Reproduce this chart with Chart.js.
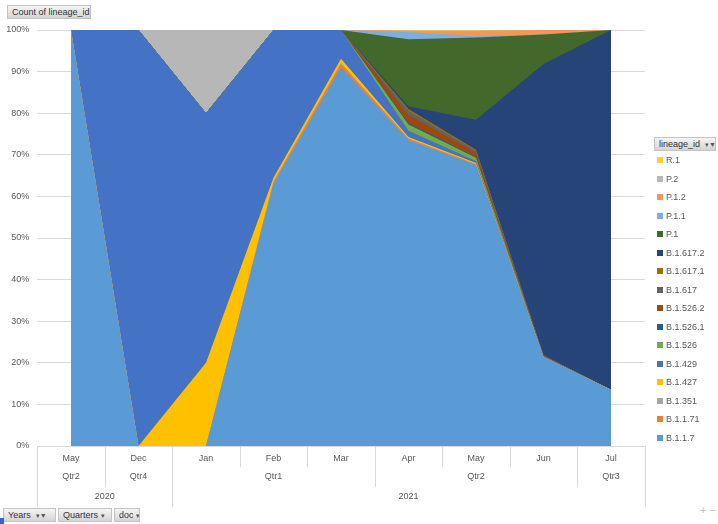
<!DOCTYPE html>
<html>
<head>
<meta charset="utf-8">
<script src="https://cdn.jsdelivr.net/npm/chart.js@4.4.1/dist/chart.umd.min.js"></script>
<style>
  html, body { margin: 0; padding: 0; background: #fff; }
  #wrap { position: relative; width: 718px; height: 524px; overflow: hidden;
          font-family: "Liberation Sans", Arial, sans-serif; color: #404040; }
  #c { position: absolute; left: 0; top: 0; }
  .btn { position: absolute; height: 14px; line-height: 13px; font-size: 9px; padding: 0 4px;
         background: linear-gradient(#f5f5f5, #d4d4d4); border: 1px solid #c4c4c4;
         box-sizing: border-box; white-space: nowrap; color: #333; overflow: hidden; }
  .btn small { font-size: 7px; color: #555; }
  .leg { position: absolute; left: 657px; font-size: 9px; color: #595959; height: 12px;
         line-height: 12px; white-space: nowrap; }
  .leg i { display: inline-block; width: 6px; height: 6px; margin-right: 3px; vertical-align: 0px; }
  .zoomctl { position: absolute; left: 700px; top: 504px; font-size: 11px; color: #bdbdbd; }
  .handle { position: absolute; left: 0; top: 518px; width: 4px; height: 6px; background: #2b6cc4; }
</style>
</head>
<body>
<div id="wrap">
  <canvas id="c" width="718" height="524"></canvas>
  <div class="btn" style="left:7px;top:5px;width:84px;">Count of lineage_id</div>
  <div class="btn" style="left:654px;top:137px;width:62px;">lineage_id &nbsp;<small>▾▼</small></div>
  <div class="btn" style="left:3px;top:508px;width:53px;">Years &nbsp;<small>▾▼</small></div>
  <div class="btn" style="left:58px;top:508px;width:54px;">Quarters <small>▾</small></div>
  <div class="btn" style="left:114px;top:508px;width:26px;">doc <small>▾</small></div>
  <div class="zoomctl">+ −</div>
  <div class="handle"></div>
  <div id="legend"></div>
</div>
<script>
// Category axis: months, with quarter and year groupings underneath
const months = ['May', 'Dec', 'Jan', 'Feb', 'Mar', 'Apr', 'May', 'Jun', 'Jul'];
const quarterLabels = ['Qtr2', 'Qtr4', 'Qtr1', 'Qtr2', 'Qtr3'];
const quarterSpans = [1, 1, 3, 3, 1];
const yearLabels = ['2020', '2021'];
const yearSpans = [2, 7];

// Share of lineage_id count per month (%), one array per lineage
const b117    = [100, 0, 0, 63, 91, 73.5, 67.5, 21.4, 13.5];
const b1171   = [0, 0, 0, 0.4, 0.8, 0.3, 0.2, 0, 0];
const b1351   = [0, 0, 0, 0.3, 0.3, 0.2, 0.1, 0, 0];
const b1427   = [0, 0, 20, 0.8, 1.0, 0.3, 0.2, 0, 0];
const b1429   = [0, 100, 60, 35.5, 6.9, 1.5, 0.5, 0.1, 0];
const b1526   = [0, 0, 0, 0, 0, 1.5, 0.8, 0, 0];
const b15261  = [0, 0, 0, 0, 0, 0.3, 0.2, 0, 0];
const b15262  = [0, 0, 0, 0, 0, 2.0, 1.0, 0.1, 0];
const b1617   = [0, 0, 0, 0, 0, 1.0, 0.5, 0.2, 0];
const b16171  = [0, 0, 0, 0, 0, 0.4, 0.2, 0, 0];
const b16172  = [0, 0, 0, 0, 0, 0.7, 7.2, 70.0, 86.5];
const p1      = [0, 0, 0, 0, 0, 16.1, 19.8, 7.1, 0];
const p11     = [0, 0, 0, 0, 0, 1.7, 0.3, 0, 0];
const p12     = [0, 0, 0, 0, 0, 0.3, 1.3, 1.1, 0];
const p2      = [0, 0, 20, 0, 0, 0, 0, 0, 0];
const r1      = [0, 0, 0, 0, 0, 0.2, 0.2, 0, 0];

// Stacked bottom to top
const lineages = ['B.1.1.7', 'B.1.1.71', 'B.1.351', 'B.1.427', 'B.1.429', 'B.1.526', 'B.1.526.1',
  'B.1.526.2', 'B.1.617', 'B.1.617.1', 'B.1.617.2', 'P.1', 'P.1.1', 'P.1.2', 'P.2', 'R.1'];
const series = [b117, b1171, b1351, b1427, b1429, b1526, b15261, b15262, b1617, b16171, b16172,
  p1, p11, p12, p2, r1];
const colors = ['#5B9BD5', '#ED7D31', '#A5A5A5', '#FFC000', '#4472C4', '#70AD47', '#255E91',
  '#9E480E', '#636363', '#997300', '#264478', '#43682B', '#7CAFDD', '#F1975A', '#B7B7B7', '#FFCD33'];

const FONT = '"Liberation Sans", Arial, sans-serif';
const LINE = '#d9d9d9';

// Draws the quarter / year rows of the category axis and their separators
const groupAxis = {
  id: 'groupAxis',
  afterDraw(chart) {
    const { ctx, chartArea, scales: { x } } = chart;
    const step = x.getPixelForValue(1) - x.getPixelForValue(0);
    const edge = i => x.getPixelForValue(0) - step / 2 + i * step;
    const rows = [chartArea.bottom, chartArea.bottom + 21, chartArea.bottom + 41, chartArea.bottom + 61];

    const starts = spans => {
      const s = new Set([0]); let acc = 0;
      spans.forEach(n => { acc += n; s.add(acc); });
      return s;
    };
    const yStarts = starts(yearSpans), qStarts = starts(quarterSpans);

    ctx.save();
    ctx.strokeStyle = LINE;
    ctx.lineWidth = 1;
    for (let i = 0; i <= months.length; i++) {
      const depth = yStarts.has(i) ? 3 : qStarts.has(i) ? 2 : 1;
      const px = Math.round(edge(i)) + 0.5;
      ctx.beginPath();
      ctx.moveTo(px, rows[0]);
      ctx.lineTo(px, rows[depth]);
      ctx.stroke();
    }

    ctx.fillStyle = '#595959';
    ctx.font = '9px ' + FONT;
    ctx.textAlign = 'center';
    ctx.textBaseline = 'middle';
    const drawRow = (labels, spans, y) => {
      let acc = 0;
      labels.forEach((lab, k) => {
        const cx = (edge(acc) + edge(acc + spans[k])) / 2;
        ctx.fillText(lab, cx, y);
        acc += spans[k];
      });
    };
    drawRow(quarterLabels, quarterSpans, rows[1] + 10);
    drawRow(yearLabels, yearSpans, rows[2] + 10);
    ctx.restore();
  }
};

new Chart(document.getElementById('c'), {
  type: 'line',
  data: {
    labels: months,
    datasets: series.map((vals, i) => ({
      label: lineages[i],
      data: vals,
      backgroundColor: colors[i],
      borderColor: 'rgba(0,0,0,0)',
      borderWidth: 0,
      pointRadius: 0,
      pointHoverRadius: 0,
      tension: 0,
      fill: 'origin'
    }))
  },
  options: {
    responsive: false,
    devicePixelRatio: 1,
    animation: false,
    layout: { padding: { top: 30, right: 73.25, bottom: 0, left: 0 } },
    plugins: { legend: { display: false }, tooltip: { enabled: false } },
    scales: {
      x: {
        type: 'category',
        offset: true,
        grid: { display: false, drawTicks: false },
        border: { display: true, color: LINE },
        ticks: { color: '#595959', font: { size: 9, family: FONT }, padding: 7,
                 maxRotation: 0, autoSkip: false },
        afterFit(scale) { scale.height = 78; }
      },
      y: {
        stacked: true,
        min: 0,
        max: 100,
        grid: { color: LINE, drawTicks: false },
        border: { display: false },
        ticks: { stepSize: 10, color: '#595959', padding: 8,
                 font: { size: 9, family: FONT },
                 callback: v => v + '%' },
        afterFit(scale) { scale.width = 37.25; }
      }
    }
  },
  plugins: [groupAxis]
});

// Legend, top series first
const legend = document.getElementById('legend');
for (let k = 0; k < lineages.length; k++) {
  const i = lineages.length - 1 - k;
  const row = document.createElement('div');
  row.className = 'leg';
  row.style.top = (154 + k * 18.5) + 'px';
  row.innerHTML = '<i style="background:' + colors[i] + '"></i>' + lineages[i];
  legend.appendChild(row);
}
</script>
</body>
</html>
